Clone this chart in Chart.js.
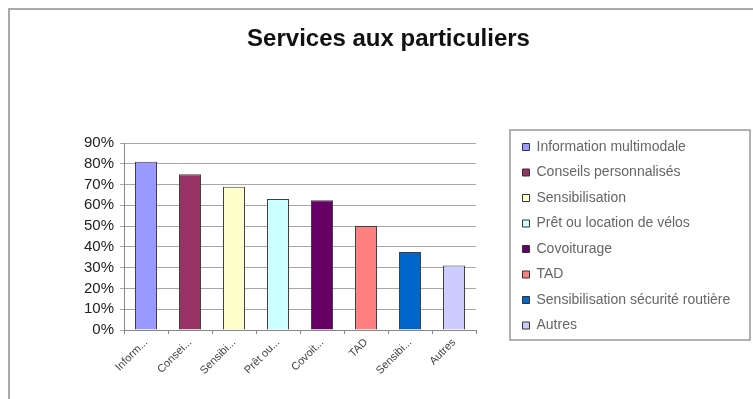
<!DOCTYPE html>
<html>
<head>
<meta charset="utf-8">
<script src="https://cdn.jsdelivr.net/npm/chart.js@4.4.0/dist/chart.umd.min.js"></script>
<style>
    html, body { margin: 0; padding: 0; background: #fff; }
</style>
</head>
<body>
<canvas id="myChart" width="753" height="399"></canvas>
<script>
// Services aux particuliers - one bar per service (%)
const categories = ['Information multimodale', 'Conseils personnalisés', 'Sensibilisation', 'Prêt ou location de vélos', 'Covoiturage', 'TAD', 'Sensibilisation sécurité routière', 'Autres'];
const tickLabels = ['Inform...', 'Consei...', 'Sensibi...', 'Prêt ou...', 'Covoit...', 'TAD', 'Sensibi...', 'Autres'];
const values = [81, 75, 69, 63, 62.5, 50, 37.5, 31];
const barColors = ['#9999ff', '#993366', '#ffffcc', '#ccffff', '#660066', '#ff8080', '#0066cc', '#ccccff'];
const yMax = 90;
const yStep = 10;

Chart.defaults.font.family = "'Liberation Sans', Arial, sans-serif";

// grey frame on the top and left, like the pasted Excel chart
const framePlugin = {
    id: 'frame',
    beforeDraw(chart) {
        const ctx = chart.ctx;
        ctx.save();
        ctx.fillStyle = '#fff';
        ctx.fillRect(0, 0, chart.width, chart.height);
        ctx.strokeStyle = '#aaaaaa';
        ctx.lineWidth = 2;
        ctx.beginPath();
        ctx.moveTo(9, chart.height);
        ctx.lineTo(9, 9);
        ctx.lineTo(chart.width, 9);
        ctx.stroke();
        ctx.restore();
    }
};

// fixed legend width, and a border round the legend items
const legendPlugin = {
    id: 'legendBox',
    beforeLayout(chart) {
        const legend = chart.legend;
        if (legend && !legend._patched) {
            const fit = legend.fit;
            legend.fit = function () {
                fit.call(this);
                this.width = 242;
            };
            legend._patched = true;
        }
    },
    afterDraw(chart) {
        const legend = chart.legend;
        const boxes = legend.legendHitBoxes;
        if (!boxes || !boxes.length) return;
        const first = boxes[0];
        const last = boxes[boxes.length - 1];
        const ctx = chart.ctx;
        ctx.save();
        ctx.strokeStyle = '#999';
        ctx.lineWidth = 1.5;
        const top = first.top - 10;
        const bottom = last.top + last.height + 7.5;
        ctx.strokeRect(legend.left - 1, top, 750 - legend.left + 1, bottom - top);
        ctx.restore();
    }
};

const data = {
    labels: categories,
    datasets: [{
        data: values,
        backgroundColor: barColors,
        borderColor: '#404040',
        borderWidth: 1,
        barPercentage: 0.5,
        categoryPercentage: 1
    }]
};

const config = {
    type: 'bar',
    data: data,
    options: {
        responsive: false,
        animation: false,
        layout: { padding: { left: 24, right: 0, top: 0, bottom: 0 } },
        scales: {
            x: {
                grid: { display: true, drawOnChartArea: false, drawTicks: true, tickLength: 4, color: '#888' },
                border: { display: true, color: '#888' },
                ticks: {
                    minRotation: 45,
                    maxRotation: 45,
                    autoSkip: false,
                    padding: 2,
                    color: '#444',
                    font: { size: 11 },
                    callback: function (value, index) {
                        return tickLabels[index];
                    }
                },
                afterFit: function (scale) { scale.height = 69; }
            },
            y: {
                min: 0,
                max: yMax,
                grid: { color: '#a6a6a6', tickLength: 4 },
                border: { display: true, color: '#888' },
                ticks: {
                    stepSize: yStep,
                    autoSkip: false,
                    padding: 6,
                    color: '#222',
                    font: { size: 15 },
                    callback: function (value) { return value + '%'; }
                },
                afterFit: function (scale) { scale.width = 100; }
            },
            // empty gap between the plot and the legend
            gap: {
                type: 'linear',
                position: 'right',
                display: true,
                grid: { display: false },
                border: { display: false },
                ticks: { display: false },
                afterFit: function (scale) { scale.width = 35; }
            }
        },
        plugins: {
            title: {
                display: true,
                text: 'Services aux particuliers',
                color: '#111',
                font: { size: 24, weight: 'bold' },
                padding: { top: 24.5, bottom: 89.7 }
            },
            legend: {
                position: 'right',
                align: 'start',
                onClick: null,
                title: {
                    display: true,
                    text: ' ',
                    font: { size: 12 },
                    padding: { top: 114.1, bottom: 0 }
                },
                labels: {
                    boxWidth: 7,
                    boxHeight: 7,
                    padding: 11.5,
                    color: '#3c3c3c',
                    font: { size: 14 },
                    generateLabels: function (chart) {
                        return categories.map((name, i) => ({
                            text: name,
                            fillStyle: barColors[i],
                            strokeStyle: '#333',
                            lineWidth: 1,
                            hidden: false,
                            index: i
                        }));
                    }
                }
            },
            tooltip: { enabled: false }
        }
    },
    plugins: [framePlugin, legendPlugin]
};

const ctx = document.getElementById('myChart').getContext('2d');
new Chart(ctx, config);
</script>
</body>
</html>
